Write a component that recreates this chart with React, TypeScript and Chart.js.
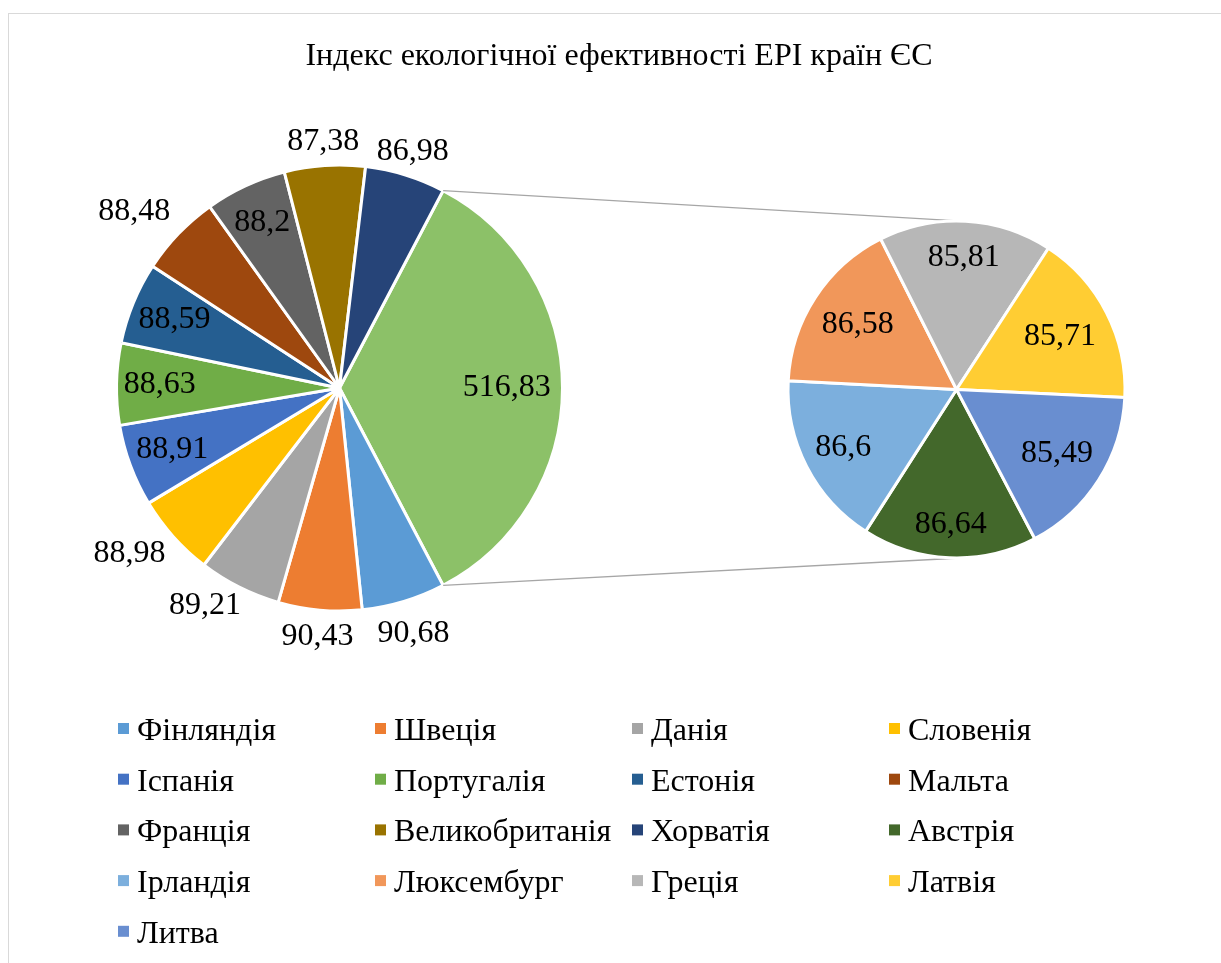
import React, { useEffect, useRef } from 'react';
import { Chart, registerables } from 'chart.js';

Chart.register(...registerables);

const TITLE = 'Індекс екологічної ефективності EPI країн ЄС';

const mainCategories = ['Фінляндія', 'Швеція', 'Данія', 'Словенія', 'Іспанія', 'Португалія', 'Естонія', 'Мальта', 'Франція', 'Великобританія', 'Хорватія'];
const mainValues = [90.68, 90.43, 89.21, 88.98, 88.91, 88.63, 88.59, 88.48, 88.2, 87.38, 86.98];
const mainColors = ['#5B9BD5', '#ED7D31', '#A5A5A5', '#FFC000', '#4472C4', '#70AD47', '#255E91', '#9E480E', '#636363', '#997300', '#264478'];

const secondCategories = ['Австрія', 'Ірландія', 'Люксембург', 'Греція', 'Латвія', 'Литва'];
const secondValues = [86.64, 86.6, 86.58, 85.81, 85.71, 85.49];
const secondColors = ['#43682B', '#7CAFDD', '#F1975A', '#B7B7B7', '#FFCD33', '#698ED0'];

const otherLabel = 'Інші';
const otherColor = '#8CC168';

const FONT = "'Liberation Serif', 'Times New Roman', serif";

const fmt = (v: number) => String(Math.round(v * 100) / 100).replace('.', ',');

const pieLabels = {
  id: 'pieLabels',
  afterDatasetsDraw(chart: any, _args: any, opts: any) {
    const meta = chart.getDatasetMeta(0);
    const data = chart.data.datasets[0].data as number[];
    const ctx = chart.ctx;
    ctx.save();
    ctx.font = opts.font;
    ctx.fillStyle = '#000';
    ctx.textAlign = 'center';
    ctx.textBaseline = 'middle';
    meta.data.forEach((arc: any, i: number) => {
      const p = arc.getProps(['x', 'y', 'startAngle', 'endAngle', 'outerRadius'], true);
      const shift = ((opts.angleShift && opts.angleShift[i]) || 0) * Math.PI / 180;
      const mid = (p.startAngle + p.endAngle) / 2 + shift;
      const rr = p.outerRadius * opts.radius[i];
      ctx.fillText(fmt(data[i]), p.x + rr * Math.cos(mid), p.y + rr * Math.sin(mid));
    });
    ctx.restore();
  },
};

const titleLegend = {
  id: 'titleLegend',
  afterDraw(chart: any) {
    const ctx = chart.ctx;
    ctx.save();
    ctx.fillStyle = '#000';
    ctx.font = `32px ${FONT}`;
    ctx.textAlign = 'center';
    ctx.textBaseline = 'alphabetic';
    ctx.fillText(TITLE, 619, 65);

    const names = [...mainCategories, ...secondCategories];
    const colors = [...mainColors, ...secondColors];
    ctx.font = `32px ${FONT}`;
    ctx.textAlign = 'left';
    names.forEach((n, i) => {
      const col = i % 4;
      const row = Math.floor(i / 4);
      const x = 118 + col * 257;
      const base = 740 + row * 50.7;
      ctx.fillStyle = colors[i];
      ctx.fillRect(x, base - 17, 11, 11);
      ctx.fillStyle = '#000';
      ctx.fillText(n, x + 19, base);
    });
    ctx.restore();
  },
};

export default function App() {
  const mainRef = useRef<HTMLCanvasElement>(null);
  const secondRef = useRef<HTMLCanvasElement>(null);

  useEffect(() => {
    const otherValue = Math.round(secondValues.reduce((a, b) => a + b, 0) * 100) / 100;
    const total = mainValues.reduce((a, b) => a + b, 0) + otherValue;
    const otherAngle = (otherValue / total) * 360;

    const mainChart = new Chart(mainRef.current as HTMLCanvasElement, {
      type: 'pie',
      data: {
        labels: [otherLabel, ...mainCategories],
        datasets: [
          {
            data: [otherValue, ...mainValues],
            backgroundColor: [otherColor, ...mainColors],
            borderColor: '#ffffff',
            borderWidth: 3,
          },
        ],
      },
      options: {
        responsive: false,
        animation: false,
        events: [],
        rotation: 90 - otherAngle / 2,
        radius: 223,
        layout: { padding: { left: 114.5, right: 656.5, top: 163, bottom: 350 } },
        plugins: {
          legend: { display: false },
          title: { display: false },
          tooltip: { enabled: false },
          pieLabels: {
            font: `32px ${FONT}`,
            radius: [0.75, 1.15, 1.12, 1.147, 1.2, 0.8, 0.806, 0.8, 1.215, 0.82, 1.107, 1.11],
            angleShift: [0, 0, 0, 5, 3.5, 0, 0, 0, -3, 0, 0, 0],
          },
        } as any,
      },
      plugins: [pieLabels, titleLegend],
    });

    const connectors = {
      id: 'connectors',
      beforeDatasetsDraw(chart: any) {
        const mArc: any = mainChart.getDatasetMeta(0).data[0];
        const m = mArc.getProps(['x', 'y', 'startAngle', 'endAngle', 'outerRadius'], true);
        const sArc: any = chart.getDatasetMeta(0).data[0];
        const s = sArc.getProps(['x', 'y', 'outerRadius'], true);
        const ctx = chart.ctx;
        ctx.save();
        ctx.strokeStyle = '#A6A6A6';
        ctx.lineWidth = 1.3;
        const ends = [
          { a: m.startAngle, sign: -1 },
          { a: m.endAngle, sign: 1 },
        ];
        ends.forEach(({ a, sign }) => {
          const px = m.x + m.outerRadius * Math.cos(a);
          const py = m.y + m.outerRadius * Math.sin(a);
          const dx = s.x - px;
          const dy = s.y - py;
          const d = Math.sqrt(dx * dx + dy * dy);
          const phi = Math.atan2(dy, dx);
          const alpha = Math.asin(s.outerRadius / d);
          const th = phi + sign * alpha;
          const len = Math.sqrt(d * d - s.outerRadius * s.outerRadius);
          ctx.beginPath();
          ctx.moveTo(px, py);
          ctx.lineTo(px + len * Math.cos(th), py + len * Math.sin(th));
          ctx.stroke();
        });
        ctx.restore();
      },
    };

    const secondChart = new Chart(secondRef.current as HTMLCanvasElement, {
      type: 'pie',
      data: {
        labels: secondCategories,
        datasets: [
          {
            data: secondValues,
            backgroundColor: secondColors,
            borderColor: '#ffffff',
            borderWidth: 3,
          },
        ],
      },
      options: {
        responsive: false,
        animation: false,
        events: [],
        rotation: 90 + otherAngle / 2,
        radius: 168.5,
        layout: { padding: { left: 786.5, right: 94.5, top: 219.5, bottom: 403.5 } },
        plugins: {
          legend: { display: false },
          title: { display: false },
          tooltip: { enabled: false },
          pieLabels: {
            font: `32px ${FONT}`,
            radius: [0.8, 0.756, 0.7, 0.785, 0.69, 0.707],
          },
        } as any,
      },
      plugins: [connectors, pieLabels],
    });

    return () => {
      secondChart.destroy();
      mainChart.destroy();
    };
  }, []);

  return (
    <div style={{ position: 'fixed', left: 0, top: 0, width: 1221, height: 963, overflow: 'hidden', background: '#fff' }}>
      <div
        style={{
          position: 'absolute',
          left: 8,
          top: 13,
          width: 1300,
          height: 1000,
          borderTop: '1px solid #D9D9D9',
          borderLeft: '1px solid #D9D9D9',
        }}
      />
      <canvas ref={mainRef} width={1221} height={963} style={{ position: 'absolute', left: 0, top: 0 }} />
      <canvas ref={secondRef} width={1221} height={963} style={{ position: 'absolute', left: 0, top: 0 }} />
    </div>
  );
}
